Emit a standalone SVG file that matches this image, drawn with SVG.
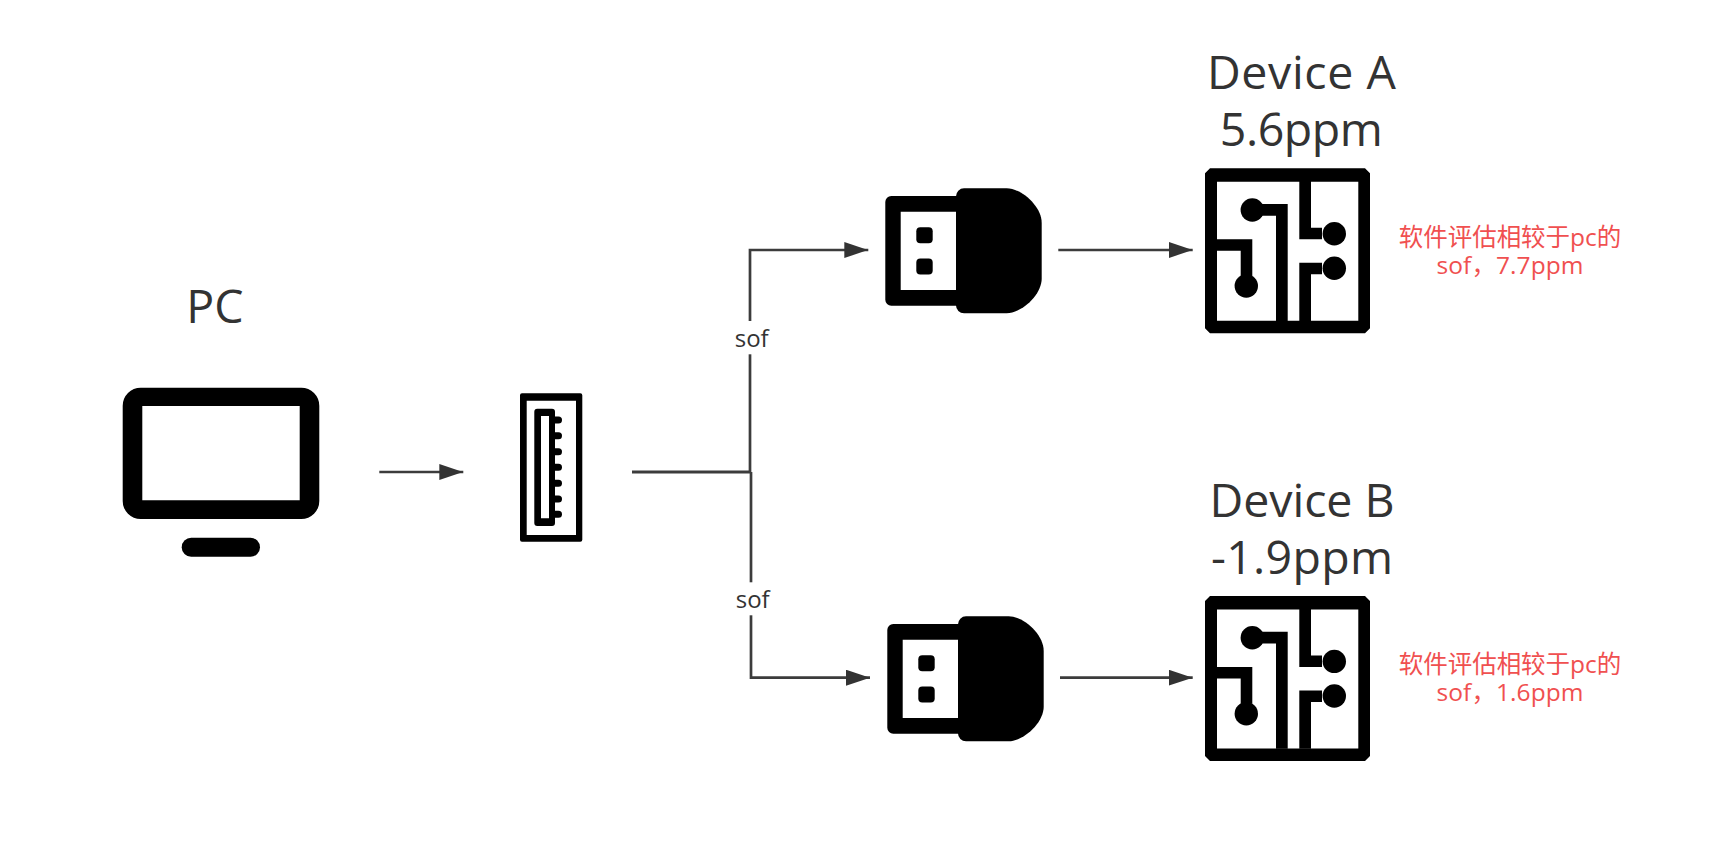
<svg xmlns="http://www.w3.org/2000/svg" width="1731" height="845" viewBox="0 0 1731 845">
<style>
.t{font-family:"Open Sans","Noto Sans","Noto Sans CJK SC",sans-serif;fill:#333;text-anchor:middle}
.big{font-size:46.5px}
.lab{font-size:24px}
.red{font-family:"Open Sans","Noto Sans CJK SC",sans-serif;font-size:24.5px;fill:#f05050;text-anchor:middle}
.ln{fill:none;stroke:#3c3c3c;stroke-width:2.7}
.k{fill:#000}
</style>
<defs>
<marker id="arr" markerUnits="userSpaceOnUse" markerWidth="24" markerHeight="16" refX="24" refY="8" orient="auto"><path d="M0 0L24 8L0 16Z" fill="#333"/></marker>
<g id="chip">
<path class="k" fill-rule="evenodd" d="M1210 168.3H1365L1370 173.3V328.3L1365 333.3H1210L1205 328.3V173.3ZM1217 181.7V320.7H1358.3V181.7Z"/>
<path class="k" d="M1299.3 180H1311V227.7H1322V239.3H1299.3ZM1311 321H1299.3V262.7H1322V274.3H1311ZM1276 321V215.7H1252V204H1287.7V321ZM1216 239.3H1252.3V276H1240.7V250.7H1216Z"/>
<circle class="k" cx="1334.3" cy="233.7" r="11.7"/><circle class="k" cx="1334.3" cy="268.3" r="11.7"/><circle class="k" cx="1252.3" cy="210" r="11.7"/><circle class="k" cx="1246.3" cy="286" r="11.7"/>
</g>
<g id="dongle">
<path class="k" fill-rule="evenodd" d="M891.3 196H960V305.7H891.3A6 6 0 0 1 885.3 299.7V202A6 6 0 0 1 891.3 196ZM900.7 211.7V290H960V211.7Z"/>
<path class="k" d="M964 188.3H1006.7C1021 188.3 1041.7 206 1041.7 223V278.600C1041.7 295.600 1021 313.3 1006.7 313.3H964A8 8 0 0 1 956 305.300V196.300A8 8 0 0 1 964 188.3Z"/>
<rect class="k" x="916.300" y="227.300" width="16.400" height="16" rx="4"/><rect class="k" x="916.300" y="258.500" width="16.400" height="16" rx="4"/>
</g>
</defs>
<rect width="1731" height="845" fill="#fff"/>
<g id="connectors">
<path class="ln" marker-end="url(#arr)" d="M379.300 472H463.300"/>
<path class="ln" style="stroke-width:3.200" d="M632 472H751"/>
<path class="ln" marker-end="url(#arr)" d="M750 472V250H868.300"/>
<path class="ln" marker-end="url(#arr)" d="M751 472V677.700H870"/>
<path class="ln" marker-end="url(#arr)" d="M1058.300 250H1192.700"/>
<path class="ln" marker-end="url(#arr)" d="M1060 677.700H1192.700"/>
</g>
<g id="edge-label-a"><rect x="730" y="321" width="42" height="33.300" fill="#fff"/><text class="t lab" x="751.700" y="346.700">sof</text></g>
<g id="edge-label-b"><rect x="731" y="582.300" width="42" height="33" fill="#fff"/><text class="t lab" x="752.700" y="607.700">sof</text></g>
<g id="pc">
<text class="t big" x="215" y="322.700">PC</text>
<path class="k" fill-rule="evenodd" d="M140.700 387.700H301.300A18 18 0 0 1 319.300 405.700V501A18 18 0 0 1 301.300 519H140.700A18 18 0 0 1 122.700 501V405.700A18 18 0 0 1 140.700 387.700ZM142.300 406V500.300H299.700V406Z"/>
<rect class="k" x="181.700" y="537.700" width="78.300" height="19" rx="9.500"/>
</g>
<g id="usb-port">
<path class="k" fill-rule="evenodd" d="M522 393.300H580.300A2 2 0 0 1 582.300 395.300V539.700A2 2 0 0 1 580.300 541.700H522A2 2 0 0 1 520 539.700V395.300A2 2 0 0 1 522 393.300ZM526.700 400.700V535H576V400.700Z"/>
<path class="k" fill-rule="evenodd" d="M537.300 408.700H552A3 3 0 0 1 555 411.700V523A3 3 0 0 1 552 526H537.300A3 3 0 0 1 534.300 523V411.700A3 3 0 0 1 537.300 408.700ZM541 416V518.300H549V416Z"/>
<g class="k"><rect x="550" y="416.500" width="12" height="7" rx="3.500"/><rect x="550" y="432.200" width="12" height="7" rx="3.500"/><rect x="550" y="448.200" width="12" height="7" rx="3.500"/><rect x="550" y="463.800" width="12" height="7" rx="3.500"/><rect x="550" y="479.800" width="12" height="7" rx="3.500"/><rect x="550" y="495.500" width="12" height="7" rx="3.500"/><rect x="550" y="510.800" width="12" height="7" rx="3.500"/></g>
</g>
<g id="dongle-a"><use href="#dongle"/></g>
<g id="dongle-b"><use href="#dongle" transform="translate(2 428)"/></g>
<g id="device-a">
<text class="t big" x="1301.500" y="88.800" textLength="189">Device A</text>
<text class="t big" x="1301.300" y="146" textLength="163">5.6ppm</text>
<use href="#chip"/>
<text class="red" x="1510" y="246" textLength="222.500">软件评估相较于pc的</text>
<text class="red" x="1510" y="274" textLength="147">sof，7.7ppm</text>
</g>
<g id="device-b">
<text class="t big" x="1302" y="516.700" textLength="185">Device B</text>
<text class="t big" x="1302" y="574.300" textLength="182">-1.9ppm</text>
<use href="#chip" transform="translate(0 427.700)"/>
<text class="red" x="1510" y="673" textLength="222.500">软件评估相较于pc的</text>
<text class="red" x="1510" y="701" textLength="147">sof，1.6ppm</text>
</g>
</svg>
